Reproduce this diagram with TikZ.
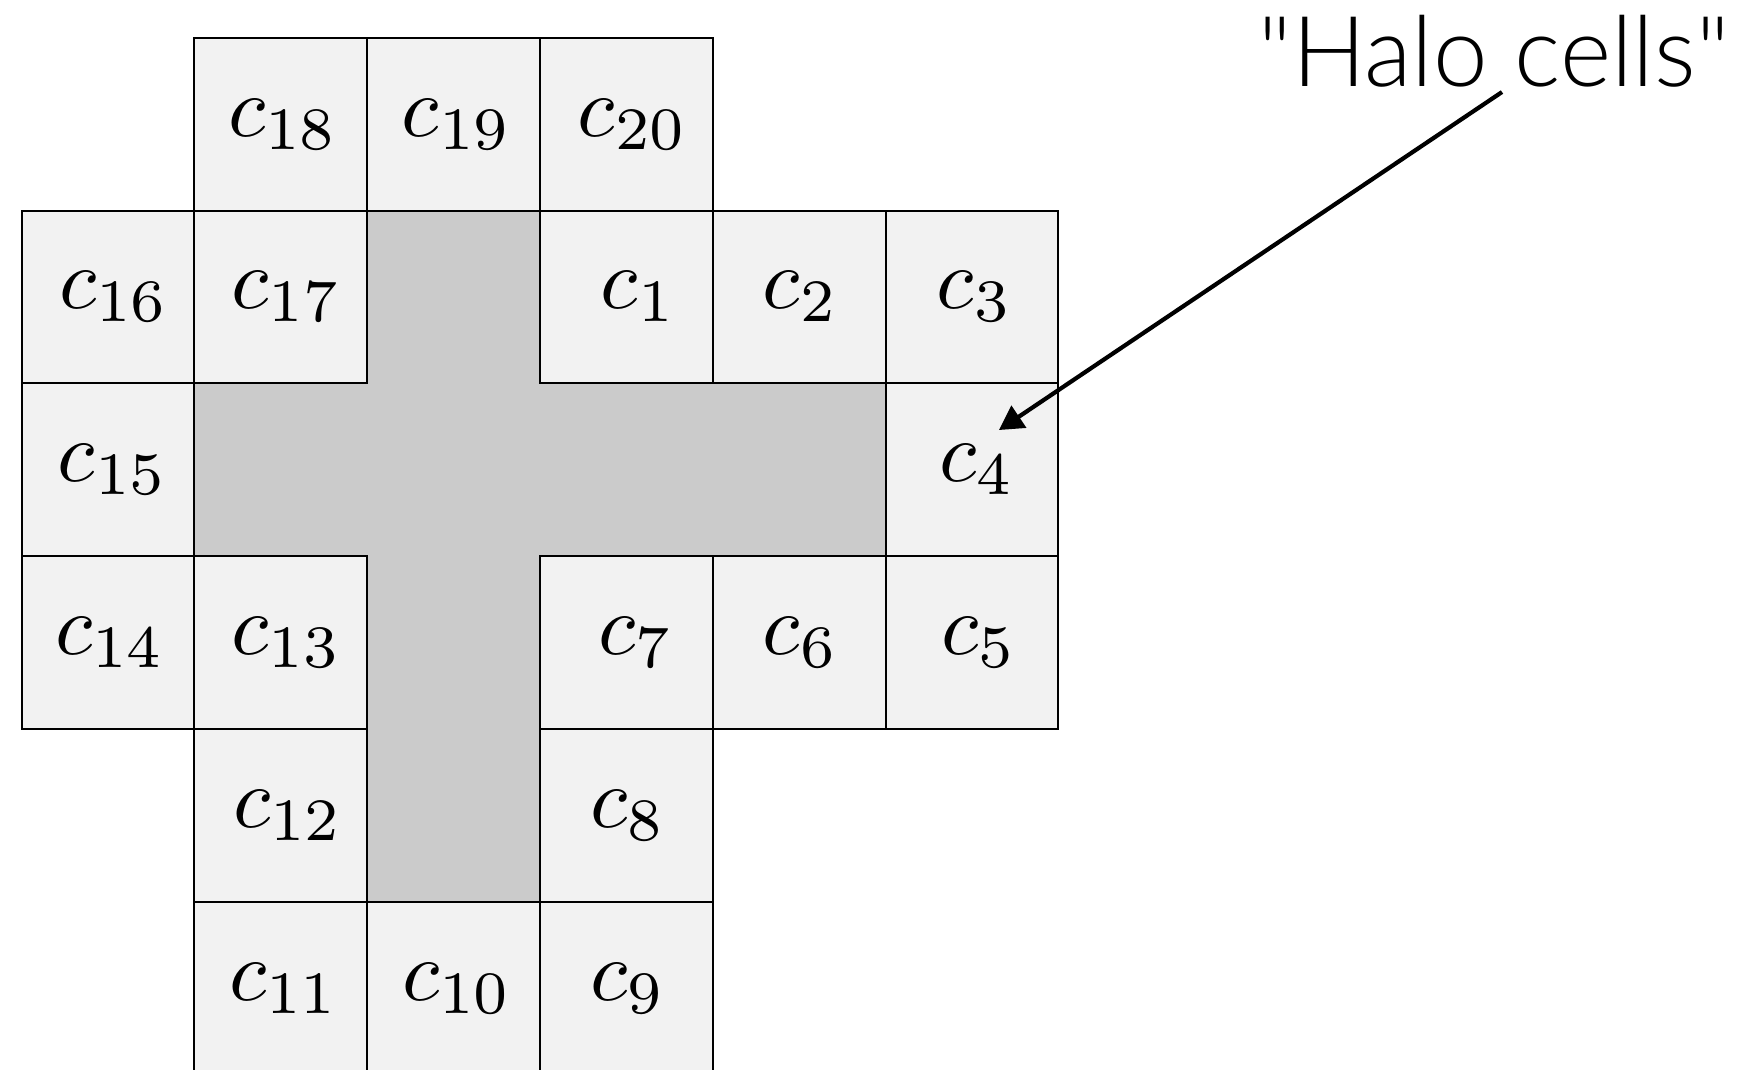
\documentclass[tikz,border=0pt]{standalone}
\usepackage{fontspec}
\usepackage{graphicx}
\usetikzlibrary{arrows.meta}
\IfFontExistsTF{Lato Light}{\newfontfamily\halofont{Lato Light}[Ligatures=TeXOff]}{\newfontfamily\halofont{Liberation Sans}[Ligatures=TeXOff]}
\definecolor{halofill}{RGB}{242,242,242}
\definecolor{innerfill}{RGB}{203,203,203}
\newcommand\celllab[1]{\scalebox{0.86}{$c_{#1}$}}
\newcommand\halocellat[5]{\node[halocell] (#1) at ({21.5+172.8*(#2+0.5)},{37.7+172.8*(#3+0.5)}) {\kern#5\celllab{#4}};}
\tikzset{
  halocell/.style={draw=black, fill=halofill, line width=0.2pt, minimum size=17.28pt, inner sep=0pt, outer sep=0pt},
  innercell/.style={fill=innerfill},
  pointer/.style={line width=0.42pt, -{Triangle[length=2.4pt,width=2.6pt]}},
  halolabel/.style={font=\halofont\fontsize{9.8}{11}\selectfont, anchor=base, inner sep=0pt}
}
\begin{document}
\begin{tikzpicture}[x=0.1pt,y=-0.1pt]
\useasboundingbox (0,0) rectangle (1742,1069);
\clip (0,0) rectangle (1742,1069);
% inner cross
\fill[innercell] (367.1,210.5) rectangle (539.9,901.7);
\fill[innercell] (194.3,383.3) rectangle (885.5,556.1);
% halo cells
\halocellat{c18}{1}{0}{18}{0.56pt}
\halocellat{c19}{2}{0}{19}{0.67pt}
\halocellat{c20}{3}{0}{20}{1.34pt}
\halocellat{c16}{0}{1}{16}{1.33pt}
\halocellat{c17}{1}{1}{17}{1.22pt}
\halocellat{c1}{3}{1}{1}{2.49pt}
\halocellat{c2}{4}{1}{2}{0.33pt}
\halocellat{c3}{5}{1}{3}{0.56pt}
\halocellat{c15}{0}{2}{15}{1.0pt}
\halocellat{c4}{5}{2}{4}{1.13pt}
\halocellat{c14}{0}{3}{14}{0.44pt}
\halocellat{c13}{1}{3}{13}{1.22pt}
\halocellat{c7}{3}{3}{7}{1.93pt}
\halocellat{c6}{4}{3}{6}{0.33pt}
\halocellat{c5}{5}{3}{5}{1.42pt}
\halocellat{c12}{1}{4}{12}{1.55pt}
\halocellat{c8}{3}{4}{8}{0.33pt}
\halocellat{c11}{1}{5}{11}{0.67pt}
\halocellat{c10}{2}{5}{10}{0.78pt}
\halocellat{c9}{3}{5}{9}{0.33pt}
% label and pointer
\node[halolabel] (halo) at (1494,86.7) {"Halo cells"};
\coordinate (arrowfrom) at (1502,92);
\coordinate (arrowto) at (999,430);
\draw[pointer] (arrowfrom) -- (arrowto);
\end{tikzpicture}
\end{document}
